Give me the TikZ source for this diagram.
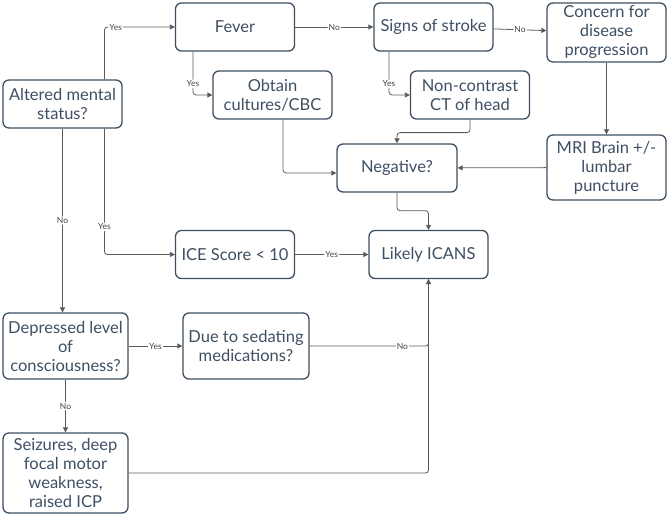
\documentclass[tikz,border=0pt]{standalone}
\usepackage{fontspec}
\setmainfont{Lato}
\usetikzlibrary{positioning, arrows.meta}
\definecolor{boxcol}{HTML}{3E4F63}
\definecolor{linecol}{HTML}{5A5A5A}
\definecolor{lblcol}{HTML}{444444}

\begin{document}
\begin{tikzpicture}[
x=1pt, y=-1pt,
box/.style={rectangle, draw=boxcol, line width=1.3pt, rounded corners=6pt, fill=white, align=center, text=boxcol, minimum width=119pt, minimum height=48pt, inner sep=2pt, font=\fontsize{16.5}{19}\selectfont},
arrow/.style={-{Triangle[length=5pt, width=5pt]}, draw=linecol, line width=0.8pt, rounded corners=3pt},
lbl/.style={fill=white, text=lblcol, inner sep=1pt, font=\fontsize{8.5}{9}\selectfont}
]
\useasboundingbox (0,0) rectangle (669,516);

\node[box] (box_altered) at (62.5,104) {Altered mental \\ status?};
\node[box] (box_fever) at (235,27) {Fever};
\node[box] (box_obtain) at (272.5,95) {Obtain \\ cultures/CBC};
\node[box] (box_stroke) at (433.5,27) {Signs of stroke};
\node[box, minimum height=59pt] (box_concern) at (606.5,32.5) {Concern for \\ disease \\ progression};
\node[box] (box_ct) at (470,95) {Non-contrast \\ CT of head};
\node[box, minimum width=120pt] (box_neg) at (397,168) {Negative?};
\node[box, minimum height=65pt] (box_mri) at (606.5,167.5) {MRI Brain +/- \\ lumbar \\ puncture};
\node[box] (box_ice) at (235,254.5) {ICE Score < 10};
\node[box] (box_icans) at (428.5,254.5) {Likely ICANS};
\node[box, minimum width=125pt, minimum height=66pt] (box_dep) at (65.5,346) {Depressed level \\ of \\ consciousness?};
\node[box, minimum width=126pt, minimum height=66pt] (box_sed) at (246,346) {Due to sedating \\ medications?};
\node[box, minimum width=125pt, minimum height=80pt] (box_seiz) at (65.5,473) {Seizures, deep \\ focal motor \\ weakness, \\ raised ICP};

% upper branch
\draw[arrow] ([xshift=42pt]box_altered.north) |- node[lbl, pos=0.58] {Yes} (box_fever.west);
\draw[arrow] (box_fever) -- node[lbl] {No} (box_stroke);
\draw[arrow] ([xshift=-42pt]box_fever.south) |- node[lbl, pos=0.37] {Yes} (box_obtain.west);
\draw[arrow] (box_stroke) -- node[lbl] {No} (box_concern);
\draw[arrow] ([xshift=-44.5pt]box_stroke.south) |- node[lbl, pos=0.37] {Yes} (box_ct.west);
\draw[arrow] (box_concern) -- (box_mri);
\draw[arrow] (box_mri) -- (box_neg);
\draw[arrow] ([xshift=10.5pt]box_obtain.south) |- ([yshift=-5pt]box_neg.west);
\draw[arrow] (box_ct.south) -- ++(0,13) -| (box_neg.north);
\draw[arrow] (box_neg.south) -- ++(0,18) -| (box_icans.north);

% lower branch
\draw[arrow] ([xshift=42pt]box_altered.south) |- node[lbl, pos=0.39] {Yes} (box_ice.west);
\draw[arrow] (box_ice) -- node[lbl] {Yes} (box_icans);
\draw[arrow] (box_altered.south) -- node[lbl] {No} (box_altered.south |- box_dep.north);
\draw[arrow] (box_dep) -- node[lbl] {Yes} (box_sed);
\draw[arrow] (box_dep) -- node[lbl] {No} (box_seiz);
\draw[arrow] (box_sed.east) -| node[lbl, pos=0.39] {No} (box_icans.south);
\draw[arrow] (box_seiz.east) -| (box_icans.south);

\end{tikzpicture}
\end{document}
